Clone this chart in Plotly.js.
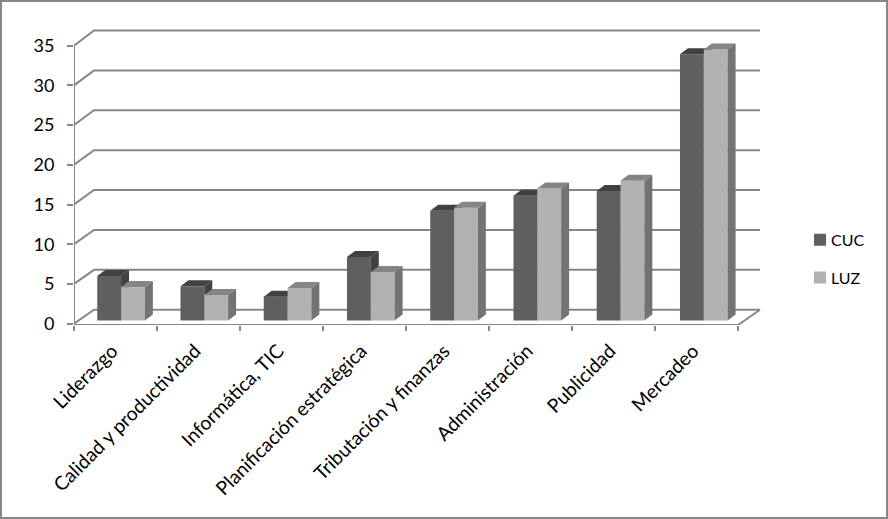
<!DOCTYPE html>
<html><head><meta charset="utf-8">
<script src="https://cdn.plot.ly/plotly-3.0.1.min.js"></script>
<style>html,body{margin:0;padding:0;background:#fff}#w{position:relative;width:888px;height:519px;overflow:hidden}#c{width:888px;height:519px}#f{position:absolute;left:0;top:0;width:888px;height:519px;box-sizing:border-box;border:2px solid #868686;pointer-events:none}</style>
</head><body><div id="w"><div id="c"></div><div id="f"></div></div>
<script>
const categories = ["Liderazgo","Calidad y productividad","Informática, TIC","Planificación estratégica","Tributación y finanzas","Administración","Publicidad","Mercadeo"];
const cuc = [5.6,4.3,3.0,8.0,13.8,15.7,16.3,33.5];
const luz = [4.2,3.2,4.1,6.1,14.2,16.6,17.6,34.1];
const yTicks = [0,5,10,15,20,25,30,35];

// Pseudo-3D geometry, in axis units
const barW=0.287, barOff=0.28, step=1.003, base=0.4, depthX=0.096, depthY=0.755;
const backX0=0.241, backX1=8.265;
const backY=v=>v*1.0045+1.75;
const grid='#868686', font='Lato, "Open Sans", sans-serif';

function nulljoin(list){const o=[];list.forEach((p,i)=>{if(i)o.push(null);o.push(...p,p[0]);});return o;}
function solid(name,xs,ys,color,sub){
  return {type:'scatter',mode:'none',name,x:xs,y:ys,fill:'toself',fillcolor:color,line:{width:0},
    hoverinfo:'skip',showlegend:false,xaxis:'x'+sub,yaxis:'y'+sub};
}
function series(name,vals,shift,front,top,side,sub){
  const ls=vals.map((_,i)=>i*step+barOff+shift*barW);
  const tops=vals.map(v=>v+base);
  const traces=[{type:'bar',name,x:ls.map(l=>l+barW/2),y:vals,base:vals.map(()=>base),width:barW,
    marker:{color:front,line:{width:0}},xaxis:'x'+sub,yaxis:'y'+sub,
    hovertemplate:'%{customdata}: %{y}<extra>'+name+'</extra>',customdata:categories,legendgroup:name}];
  traces.push(solid(name+' top',
    nulljoin(ls.map(l=>[l,l+barW,l+barW+depthX,l+depthX])),
    nulljoin(tops.map(t=>[t,t,t+depthY,t+depthY])),top,sub));
  traces.push(solid(name+' side',
    nulljoin(ls.map(l=>[l+barW,l+barW,l+barW+depthX,l+barW+depthX])),
    nulljoin(tops.map(t=>[base,t,t+depthY,base+depthY])),side,sub));
  return traces;
}
function ln(xs,ys,w){return {type:'scatter',mode:'lines',x:xs,y:ys,line:{color:grid,width:w||2},hoverinfo:'skip',showlegend:false,cliponaxis:false,xaxis:'x',yaxis:'y'};}

const traces=[];
yTicks.forEach(v=>traces.push(ln([0,backX0,backX1],[v,backY(v),backY(v)])));
traces.push(ln([0,0],[yTicks[0],yTicks[yTicks.length-1]]));
traces.push(ln([0,8,backX1],[-0.17,-0.17,backY(0)]));
traces.push(...series('CUC',cuc,0,'#5f5f5f','#414141','#414141','2'));
traces.push(...series('LUZ',luz,1,'#b2b2b2','#858585','#737373','3'));

const pxUnit=83, yU=7.95;
const left=74, right=770, bottomPx=325.25, topPx=25;
const xR=[0,(right-left)/pxUnit], yR=[-0.17,(323.9-topPx)/yU];
const hidden={visible:false,fixedrange:true};
const layout={
  width:888,height:519,paper_bgcolor:'#fff',plot_bgcolor:'rgba(0,0,0,0)',
  margin:{l:left,r:888-right,t:topPx,b:519-bottomPx,pad:0,autoexpand:false},
  barmode:'overlay',showlegend:true,
  font:{family:font,size:17,color:'#000'},
  xaxis:{range:xR,tickmode:'array',tickvals:categories.map((_,i)=>i).concat(categories.length),ticktext:categories.map(()=>'').concat(''),
    ticks:'outside',ticklen:5,tickwidth:2,tickcolor:grid,showgrid:false,zeroline:false,showline:false,fixedrange:true},
  yaxis:{range:yR,tickmode:'array',tickvals:yTicks,ticktext:yTicks.map(String),ticks:'outside',ticklen:6,tickwidth:2,tickcolor:grid,
    showgrid:false,zeroline:false,showline:false,fixedrange:true,ticklabelstandoff:9,tickfont:{family:font,size:18,color:'#000'}},
  xaxis2:{overlaying:'x',anchor:'y2',range:xR,tickmode:'array',tickvals:categories.map((_,i)=>i+0.46),ticktext:categories,tickangle:-45,
    ticks:'',showgrid:false,zeroline:false,showline:false,fixedrange:true,ticklabelstandoff:10,tickfont:{family:font,size:19.3,color:'#000'}},
  yaxis2:Object.assign({overlaying:'y',anchor:'x2',range:yR},hidden),
  xaxis3:Object.assign({overlaying:'x',anchor:'y3',range:xR},hidden),
  yaxis3:Object.assign({overlaying:'y',anchor:'x3',range:yR},hidden),
  legend:{xref:'paper',xanchor:'left',yanchor:'top',tracegroupgap:14,font:{family:font,size:16,color:'#000'},bgcolor:'rgba(0,0,0,0)',itemclick:false,itemdoubleclick:false}
};
layout.legend.x=(800-left)/(right-left);
layout.legend.y=(325.25-223)/(325.25-25);
Plotly.newPlot('c',traces,layout,{displayModeBar:false,responsive:false}).then(()=>{
  document.querySelectorAll('#c .legendtext').forEach(t=>t.setAttribute('x',+t.getAttribute('x')-9));
});
</script></body></html>
